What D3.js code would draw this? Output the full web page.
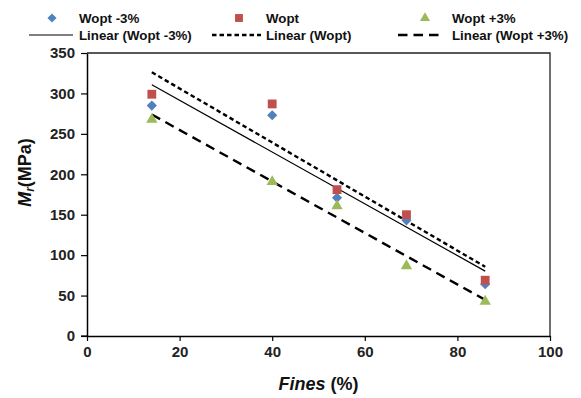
<!DOCTYPE html>
<html><head><meta charset="utf-8">
<script src="https://cdn.jsdelivr.net/npm/d3@7"></script>
<style>body{margin:0;background:#fff}svg{display:block;font-family:"Liberation Sans",Arial,sans-serif}</style>
</head><body>
<svg id="c" width="581" height="398"></svg>
<script>
const fines = [14, 40, 54, 69, 86];
const woptMinus3 = [285, 273, 171, 143, 64];
const wopt = [299, 287, 181, 150, 69];
const woptPlus3 = [269, 192, 162, 88, 44];
const xTicks = [0, 20, 40, 60, 80, 100];
const yTicks = [0, 50, 100, 150, 200, 250, 300, 350];
const seriesNames = ["Wopt -3%", "Wopt", "Wopt +3%"];
const trendNames = ["Linear (Wopt -3%)", "Linear (Wopt)", "Linear (Wopt +3%)"];

const svg = d3.select("#c");
const x = d3.scaleLinear().domain([0, 100]).range([87, 550]);
const y = d3.scaleLinear().domain([0, 350]).range([336, 53]);

// square diamond (rotated square) symbol
const diamondSq = { draw(ctx, size){ const r = Math.sqrt(size/2); ctx.moveTo(0,-r); ctx.lineTo(r,0); ctx.lineTo(0,r); ctx.lineTo(-r,0); ctx.closePath(); } };

const series = [
  {name: seriesNames[0], vals: woptMinus3, color: "#4F81BD", sym: diamondSq, size: 52, dash: null, w: 1.2},
  {name: seriesNames[1], vals: wopt, color: "#C0504D", sym: d3.symbolSquare, size: 78, dash: "4.5,3", w: 2.4},
  {name: seriesNames[2], vals: woptPlus3, color: "#9BBB59", sym: d3.symbolTriangle, size: 56, dash: "9.5,6", w: 2.4}
];

// plot border (top/right)
svg.append("path").attr("d", `M${x(0)},${y(350)}H${x(100)}V${y(0)}`)
  .attr("fill","none").attr("stroke","#222").attr("stroke-width",1.3);

const xAxis = svg.append("g").attr("transform", `translate(0,${y(0)})`)
  .call(d3.axisBottom(x).tickValues(xTicks).tickSize(5).tickSizeOuter(0).tickPadding(5));
const yAxis = svg.append("g").attr("transform", `translate(${x(0)},0)`)
  .call(d3.axisLeft(y).tickValues(yTicks).tickSize(6).tickSizeOuter(0).tickPadding(6));
[xAxis, yAxis].forEach(g => {
  g.select(".domain").attr("stroke","#000").attr("stroke-width",1.5);
  g.selectAll(".tick line").attr("stroke","#000").attr("stroke-width",1.2);
  g.selectAll("text").attr("font-size",15).attr("font-weight","bold").attr("fill","#222")
    .attr("font-family",'"Liberation Sans",Arial,sans-serif');
});
svg.append("line").attr("x1",x(0)-6).attr("x2",x(0)).attr("y1",y(0)).attr("y2",y(0)).attr("stroke","#000").attr("stroke-width",1.2);

// regression lines
function regress(xs, ys){
  const mx = d3.mean(xs), my = d3.mean(ys);
  let sxy = 0, sxx = 0;
  xs.forEach((v,i)=>{ sxy += (v-mx)*(ys[i]-my); sxx += (v-mx)*(v-mx); });
  const b = sxy/sxx, a = my - b*mx;
  return v => a + b*v;
}
const xmin = d3.min(fines), xmax = d3.max(fines);
series.forEach(s => {
  const f = regress(fines, s.vals);
  svg.append("line")
    .attr("x1", x(xmin)).attr("y1", y(f(xmin)))
    .attr("x2", x(xmax)).attr("y2", y(f(xmax)))
    .attr("stroke","#000").attr("stroke-width", s.w)
    .attr("stroke-dasharray", s.dash);
});

// markers
series.forEach(s => {
  const sym = d3.symbol().type(s.sym).size(s.size);
  svg.append("g").selectAll("path").data(s.vals).join("path")
    .attr("d", sym)
    .attr("transform", (d,i) => `translate(${x(fines[i])},${y(d) + (s.sym===d3.symbolTriangle?1:0)})`)
    .attr("fill", s.color);
});

// legend
const legX = [52, 239, 425];
const legText = [79, 266, 452];
const lineX = [[29, 73], [212, 261], [398, 440]];
series.forEach((s,i) => {
  const sym = d3.symbol().type(s.sym).size(s.size*0.8);
  svg.append("path").attr("d", sym).attr("transform", `translate(${legX[i]},${18})`).attr("fill", s.color);
  svg.append("text").attr("x", legText[i]).attr("y", 23).text(s.name)
    .attr("font-size",13.3).attr("font-weight","bold").attr("fill","#111");
  svg.append("line").attr("x1", lineX[i][0]).attr("x2", lineX[i][1]).attr("y1", 35).attr("y2", 35)
    .attr("stroke","#000").attr("stroke-width", s.w).attr("stroke-dasharray", s.dash);
  svg.append("text").attr("x", legText[i]).attr("y", 40).text(trendNames[i])
    .attr("font-size",13.3).attr("font-weight","bold").attr("fill","#111");
});

// axis titles
const xt = svg.append("text").attr("x", (x(0)+x(100))/2).attr("y", 390).attr("text-anchor","middle")
  .attr("font-size",18).attr("font-weight","bold").attr("fill","#111");
xt.append("tspan").attr("font-style","italic").text("Fines");
xt.append("tspan").text(" (%)");

const yt = svg.append("text").attr("transform", `translate(31,${(y(0)+y(350))/2 - 22}) rotate(-90)`)
  .attr("text-anchor","middle").attr("font-size",18).attr("font-weight","bold").attr("fill","#111");
yt.append("tspan").attr("font-style","italic").text("M");
yt.append("tspan").attr("font-style","italic").attr("font-size",12).attr("dy",3).text("r");
yt.append("tspan").attr("dy",-3).text("(MPa)");
</script>
</body></html>
